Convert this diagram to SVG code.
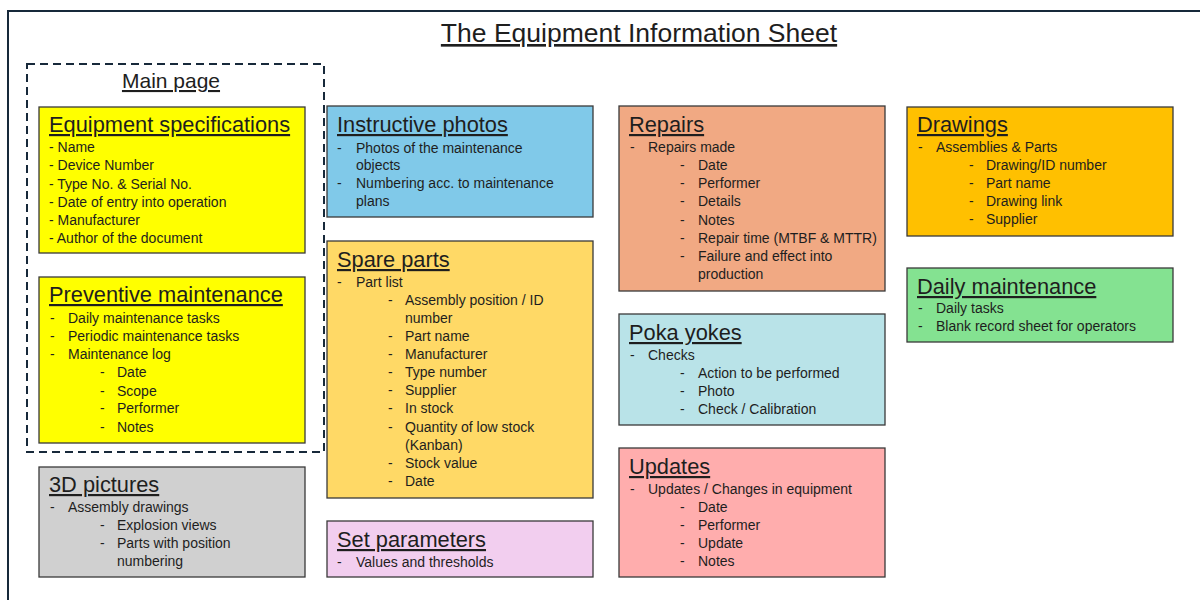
<svg xmlns="http://www.w3.org/2000/svg" width="1200" height="600" viewBox="0 0 1200 600">
  <style>
    text { font-family: "Liberation Sans", Arial, sans-serif; fill: #1e1e1e; }
    .frame { fill: #ffffff; stroke: #17293a; stroke-width: 2; }
    .group { fill: none; stroke: #17293a; stroke-width: 2; stroke-dasharray: 8 5; }
    .box { stroke: #3a3a3a; stroke-width: 1.3; }
    .title { font-size: 26.5px; text-decoration: underline; }
    .sub { font-size: 21px; text-decoration: underline; }
    .h { font-size: 21.8px; text-decoration: underline; }
    .t { font-size: 14px; }
  </style>

  <rect x="0" y="0" width="1200" height="600" fill="#ffffff"/>
  <rect class="frame" x="8" y="11" width="1200" height="600"/>

  <text class="title" x="639" y="42" text-anchor="middle">The Equipment Information Sheet</text>

  <!-- main page grouping -->
  <g id="main-page">
    <rect class="group" x="27" y="64" width="297" height="388"/>
    <text class="sub" x="171" y="88" text-anchor="middle">Main page</text>
  </g>

  <g id="equipment-specifications" transform="translate(39,107)">
    <rect class="box" width="266" height="146" fill="#ffff00"/>
    <text class="h" x="10" y="25">Equipment specifications</text>
    <text class="t" x="10" y="45">- Name</text>
    <text class="t" x="10" y="63">- Device Number</text>
    <text class="t" x="10" y="82">- Type No. &amp; Serial No.</text>
    <text class="t" x="10" y="100">- Date of entry into operation</text>
    <text class="t" x="10" y="118">- Manufacturer</text>
    <text class="t" x="10" y="136">- Author of the document</text>
  </g>

  <g id="preventive-maintenance" transform="translate(39,277)">
    <rect class="box" width="266" height="166" fill="#ffff00"/>
    <text class="h" x="10" y="25">Preventive maintenance</text>
    <text class="t" x="11" y="46">-</text><text class="t" x="29" y="46">Daily maintenance tasks</text>
    <text class="t" x="11" y="64">-</text><text class="t" x="29" y="64">Periodic maintenance tasks</text>
    <text class="t" x="11" y="82">-</text><text class="t" x="29" y="82">Maintenance log</text>
    <text class="t" x="61" y="100">-</text><text class="t" x="78" y="100">Date</text>
    <text class="t" x="61" y="119">-</text><text class="t" x="78" y="119">Scope</text>
    <text class="t" x="61" y="136">-</text><text class="t" x="78" y="136">Performer</text>
    <text class="t" x="61" y="155">-</text><text class="t" x="78" y="155">Notes</text>
  </g>

  <g id="pictures-3d" transform="translate(39,467)">
    <rect class="box" width="266" height="110" fill="#d0d0d0"/>
    <text class="h" x="10" y="25">3D pictures</text>
    <text class="t" x="11" y="45">-</text><text class="t" x="29" y="45">Assembly drawings</text>
    <text class="t" x="61" y="63">-</text><text class="t" x="78" y="63">Explosion views</text>
    <text class="t" x="61" y="81">-</text><text class="t" x="78" y="81">Parts with position</text>
    <text class="t" x="78" y="99">numbering</text>
  </g>

  <g id="instructive-photos" transform="translate(327,106)">
    <rect class="box" width="266" height="111" fill="#80c9e9"/>
    <text class="h" x="10" y="26">Instructive photos</text>
    <text class="t" x="10" y="47">-</text><text class="t" x="29" y="47">Photos of the maintenance</text>
    <text class="t" x="29" y="64">objects</text>
    <text class="t" x="10" y="82">-</text><text class="t" x="29" y="82">Numbering acc. to maintenance</text>
    <text class="t" x="29" y="100">plans</text>
  </g>

  <g id="spare-parts" transform="translate(327,241)">
    <rect class="box" width="266" height="257" fill="#ffd966"/>
    <text class="h" x="10" y="26">Spare parts</text>
    <text class="t" x="10" y="46">-</text><text class="t" x="29" y="46">Part list</text>
    <text class="t" x="61" y="64">-</text><text class="t" x="78" y="64">Assembly position / ID</text>
    <text class="t" x="78" y="82">number</text>
    <text class="t" x="61" y="100">-</text><text class="t" x="78" y="100">Part name</text>
    <text class="t" x="61" y="118">-</text><text class="t" x="78" y="118">Manufacturer</text>
    <text class="t" x="61" y="136">-</text><text class="t" x="78" y="136">Type number</text>
    <text class="t" x="61" y="154">-</text><text class="t" x="78" y="154">Supplier</text>
    <text class="t" x="61" y="172">-</text><text class="t" x="78" y="172">In stock</text>
    <text class="t" x="61" y="191">-</text><text class="t" x="78" y="191">Quantity of low stock</text>
    <text class="t" x="78" y="209">(Kanban)</text>
    <text class="t" x="61" y="227">-</text><text class="t" x="78" y="227">Stock value</text>
    <text class="t" x="61" y="245">-</text><text class="t" x="78" y="245">Date</text>
  </g>

  <g id="set-parameters" transform="translate(327,521)">
    <rect class="box" width="266" height="56" fill="#f2ceef"/>
    <text class="h" x="10" y="26">Set parameters</text>
    <text class="t" x="10" y="46">-</text><text class="t" x="29" y="46">Values and thresholds</text>
  </g>

  <g id="repairs" transform="translate(619,106)">
    <rect class="box" width="266" height="185" fill="#f1a983"/>
    <text class="h" x="10" y="26">Repairs</text>
    <text class="t" x="11" y="46">-</text><text class="t" x="29" y="46">Repairs made</text>
    <text class="t" x="61" y="64">-</text><text class="t" x="79" y="64">Date</text>
    <text class="t" x="61" y="82">-</text><text class="t" x="79" y="82">Performer</text>
    <text class="t" x="61" y="100">-</text><text class="t" x="79" y="100">Details</text>
    <text class="t" x="61" y="119">-</text><text class="t" x="79" y="119">Notes</text>
    <text class="t" x="61" y="137">-</text><text class="t" x="79" y="137">Repair time (MTBF &amp; MTTR)</text>
    <text class="t" x="61" y="155">-</text><text class="t" x="79" y="155">Failure and effect into</text>
    <text class="t" x="79" y="173">production</text>
  </g>

  <g id="poka-yokes" transform="translate(619,314)">
    <rect class="box" width="266" height="111" fill="#b9e3e8"/>
    <text class="h" x="10" y="26">Poka yokes</text>
    <text class="t" x="11" y="46">-</text><text class="t" x="29" y="46">Checks</text>
    <text class="t" x="61" y="64">-</text><text class="t" x="79" y="64">Action to be performed</text>
    <text class="t" x="61" y="82">-</text><text class="t" x="79" y="82">Photo</text>
    <text class="t" x="61" y="100">-</text><text class="t" x="79" y="100">Check / Calibration</text>
  </g>

  <g id="updates" transform="translate(619,448)">
    <rect class="box" width="266" height="129" fill="#ffadad"/>
    <text class="h" x="10" y="26">Updates</text>
    <text class="t" x="11" y="46">-</text><text class="t" x="29" y="46">Updates / Changes in equipment</text>
    <text class="t" x="61" y="64">-</text><text class="t" x="79" y="64">Date</text>
    <text class="t" x="61" y="82">-</text><text class="t" x="79" y="82">Performer</text>
    <text class="t" x="61" y="100">-</text><text class="t" x="79" y="100">Update</text>
    <text class="t" x="61" y="118">-</text><text class="t" x="79" y="118">Notes</text>
  </g>

  <g id="drawings" transform="translate(907,107)">
    <rect class="box" width="266" height="129" fill="#ffc000"/>
    <text class="h" x="10" y="25">Drawings</text>
    <text class="t" x="11" y="45">-</text><text class="t" x="29" y="45">Assemblies &amp; Parts</text>
    <text class="t" x="62" y="63">-</text><text class="t" x="79" y="63">Drawing/ID number</text>
    <text class="t" x="62" y="81">-</text><text class="t" x="79" y="81">Part name</text>
    <text class="t" x="62" y="99">-</text><text class="t" x="79" y="99">Drawing link</text>
    <text class="t" x="62" y="117">-</text><text class="t" x="79" y="117">Supplier</text>
  </g>

  <g id="daily-maintenance" transform="translate(907,268)">
    <rect class="box" width="266" height="74" fill="#84e291"/>
    <text class="h" x="10" y="26">Daily maintenance</text>
    <text class="t" x="11" y="45">-</text><text class="t" x="29" y="45">Daily tasks</text>
    <text class="t" x="11" y="63">-</text><text class="t" x="29" y="63">Blank record sheet for operators</text>
  </g>

  <g id="connectors"></g>
</svg>
